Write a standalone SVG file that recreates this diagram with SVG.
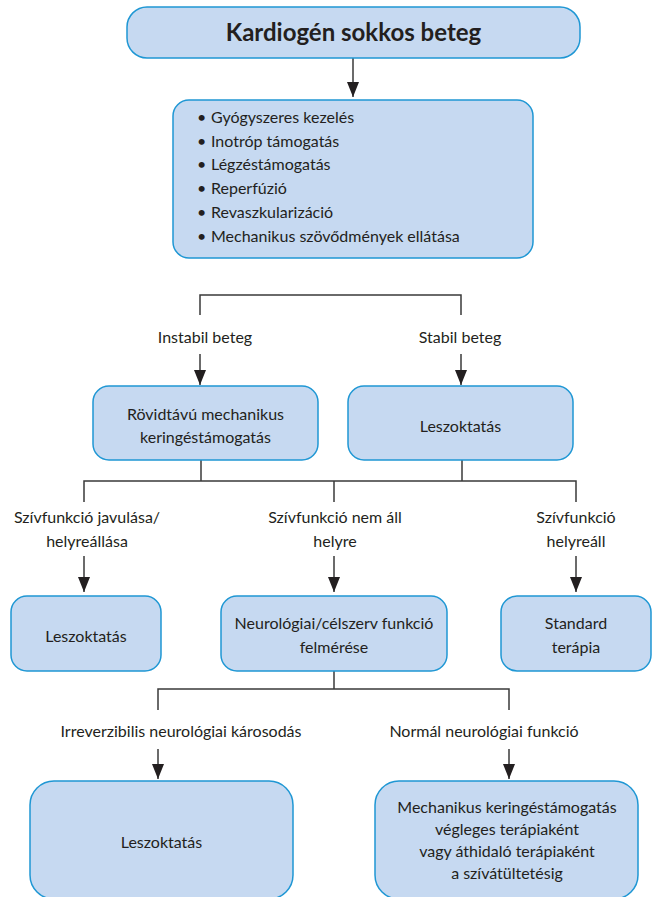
<svg xmlns="http://www.w3.org/2000/svg" width="652" height="897" viewBox="0 0 652 897">
<style>
.box{fill:#c6d9f1;stroke:#1f97d4;stroke-width:1.5}
.ln{fill:none;stroke:#3a3a3a;stroke-width:1.5}
.ar{fill:none;stroke:#3a3a3a;stroke-width:1.5;marker-end:url(#ah)}
text{font-family:Lato,"Open Sans","Liberation Sans",sans-serif;font-size:16px;fill:#231f20}
.c{text-anchor:middle}
.t{font-size:24px;font-weight:bold}
</style>
<defs>
<marker id="ah" viewBox="0 0 15 12" refX="15" refY="6" markerWidth="15" markerHeight="12" markerUnits="userSpaceOnUse" orient="auto">
<path d="M0,0 L15,6 L0,12 z" fill="#231f20"/>
</marker>
</defs>
<g id="connectors">
<line class="ar" x1="353" y1="58" x2="353" y2="97"/>
<polyline class="ln" points="200,315 200,295 461,295 461,315"/>
<line class="ar" x1="200" y1="354" x2="200" y2="385"/>
<line class="ar" x1="461" y1="354" x2="461" y2="385"/>
<line class="ln" x1="201" y1="460" x2="201" y2="481"/>
<line class="ln" x1="462" y1="460" x2="462" y2="481"/>
<polyline class="ln" points="84,502 84,481 576,481 576,502"/>
<line class="ln" x1="334" y1="481" x2="334" y2="502"/>
<line class="ar" x1="84" y1="556" x2="84" y2="592"/>
<line class="ar" x1="334" y1="556" x2="334" y2="592"/>
<line class="ar" x1="576" y1="556" x2="576" y2="592"/>
<line class="ln" x1="334" y1="671" x2="334" y2="689"/>
<polyline class="ln" points="158,710 158,689 509,689 509,710"/>
<line class="ar" x1="158" y1="749" x2="158" y2="779"/>
<line class="ar" x1="509" y1="749" x2="509" y2="779"/>
</g>
<g id="n-start">
<rect class="box" x="127" y="7" width="453" height="51" rx="20"/>
<text class="c t" x="353.5" y="41">Kardiogén sokkos beteg</text>
</g>
<g id="n-treat">
<rect class="box" x="173" y="100" width="360" height="158" rx="16"/>
<text x="197" y="123">•</text><text x="211" y="123">Gyógyszeres kezelés</text>
<text x="197" y="147">•</text><text x="211" y="147">Inotróp támogatás</text>
<text x="197" y="170">•</text><text x="211" y="170">Légzéstámogatás</text>
<text x="197" y="194">•</text><text x="211" y="194">Reperfúzió</text>
<text x="197" y="218">•</text><text x="211" y="218">Revaszkularizáció</text>
<text x="197" y="242">•</text><text x="211" y="242">Mechanikus szövődmények ellátása</text>
</g>
<g id="labels1">
<text class="c" x="205" y="343">Instabil beteg</text>
<text class="c" x="460" y="343">Stabil beteg</text>
</g>
<g id="n-mcs">
<rect class="box" x="93" y="386" width="225" height="74" rx="16"/>
<text class="c" x="205.5" y="420">Rövidtávú mechanikus</text>
<text class="c" x="205.5" y="443">keringéstámogatás</text>
</g>
<g id="n-wean1">
<rect class="box" x="348" y="386" width="225" height="74" rx="16"/>
<text class="c" x="460.5" y="432">Leszoktatás</text>
</g>
<g id="labels2">
<text class="c" x="87" y="523">Szívfunkció javulása/</text>
<text class="c" x="87" y="547">helyreállása</text>
<text class="c" x="335" y="523">Szívfunkció nem áll</text>
<text class="c" x="335" y="547">helyre</text>
<text class="c" x="576" y="523">Szívfunkció</text>
<text class="c" x="576" y="547">helyreáll</text>
</g>
<g id="n-wean2">
<rect class="box" x="11" y="596" width="150" height="75" rx="16"/>
<text class="c" x="86" y="642">Leszoktatás</text>
</g>
<g id="n-neuro">
<rect class="box" x="221" y="596" width="226" height="75" rx="16"/>
<text class="c" x="334" y="629">Neurológiai/célszerv funkció</text>
<text class="c" x="334" y="653">felmérése</text>
</g>
<g id="n-std">
<rect class="box" x="501" y="596" width="150" height="75" rx="16"/>
<text class="c" x="576" y="629">Standard</text>
<text class="c" x="576" y="653">terápia</text>
</g>
<g id="labels3">
<text class="c" x="181" y="737">Irreverzibilis neurológiai károsodás</text>
<text class="c" x="484" y="737">Normál neurológiai funkció</text>
</g>
<g id="n-wean3">
<rect class="box" x="30" y="781" width="263" height="118" rx="24"/>
<text class="c" x="161.5" y="848">Leszoktatás</text>
</g>
<g id="n-final">
<rect class="box" x="375" y="781" width="263" height="118" rx="24"/>
<text class="c" x="507" y="813">Mechanikus keringéstámogatás</text>
<text class="c" x="507" y="835">végleges terápiaként</text>
<text class="c" x="507" y="857">vagy áthidaló terápiaként</text>
<text class="c" x="507" y="879">a szívátültetésig</text>
</g>
</svg>
